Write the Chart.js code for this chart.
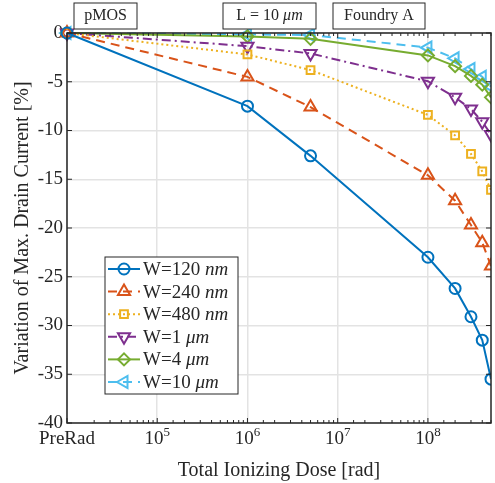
<!DOCTYPE html>
<html>
<head>
<meta charset="utf-8">
<script src="https://cdn.jsdelivr.net/npm/chart.js@4.4.1/dist/chart.umd.min.js"></script>
<style>
    html, body { margin: 0; padding: 0; background: #ffffff; }
    #wrap { width: 495px; height: 483px; }
</style>
</head>
<body>
<div id="wrap"><canvas id="doseGraph" width="495" height="483"></canvas></div>
<script>
// dose steps, PreRad is put at 1e4 on the log axis
const doses = [1e4, 1e6, 5e6, 1e8, 2e8, 3e8, 4e8, 5e8];
const w120nm = [0, -7.5, -12.6, -23.0, -26.2, -29.1, -31.5, -35.5];
const w240nm = [0, -4.5, -7.6, -14.6, -17.2, -19.7, -21.5, -23.9];
const w480nm = [0, -2.2, -3.8, -8.4, -10.5, -12.4, -14.2, -16.1];
const w1um = [0, -1.35, -2.1, -4.95, -6.6, -7.8, -9.1, -10.4];
const w4um = [0, -0.35, -0.6, -2.3, -3.4, -4.4, -5.3, -6.6];
const w10um = [0, -0.15, -0.2, -1.5, -2.6, -3.7, -4.5, -5.5];

const seriesNames = ["W=120", "W=240", "W=480", "W=1", "W=4", "W=10"];
const seriesUnits = ["nm", "nm", "nm", "\u03bcm", "\u03bcm", "\u03bcm"];
const xTickValues = [1e4, 1e5, 1e6, 1e7, 1e8];
const xTickLabels = ["PreRad", "10|5", "10|6", "10|7", "10|8"];
const boxTexts = [["pMOS", ""], ["L = 10 ", "\u03bcm"], ["Foundry A", ""]];

const FONT = "'Liberation Serif', 'Times New Roman', serif";
const INK = "#262626";

function make_series(values, idx, color, dash, style, radius, rot) {
    return {
        label: seriesNames[idx] + " " + seriesUnits[idx],
        data: doses.map((d, i) => ({ x: d, y: values[i] })),
        borderColor: color,
        backgroundColor: "rgba(0,0,0,0)",
        borderWidth: 2,
        borderDash: dash,
        pointStyle: style,
        pointRadius: radius,
        pointRotation: rot,
        pointBorderWidth: 2,
        pointBorderColor: color,
        pointBackgroundColor: "rgba(0,0,0,0)",
        tension: 0,
        clip: { left: false, top: false, right: 0, bottom: 0 }
    };
}

const datasets = [
    make_series(w120nm, 0, "#0072BD", [], "circle", 5.5, 0),
    make_series(w240nm, 1, "#D95319", [9, 6], "triangle", 7, 0),
    make_series(w480nm, 2, "#EDB120", [2, 3], "rect", 5.5, 0),
    make_series(w1um, 3, "#7E2F8E", [9, 4, 2, 4], "triangle", 7, 180),
    make_series(w4um, 4, "#77AC30", [], "rectRot", 6, 0),
    make_series(w10um, 5, "#4DBEEE", [9, 6], "triangle", 7, -90)
];

// draws text made of a normal part and an italic part
function draw_mixed(ctx, x, y, normal, italic, size, align) {
    ctx.font = size + "px " + FONT;
    const w1 = ctx.measureText(normal).width;
    ctx.font = "italic " + size + "px " + FONT;
    const w2 = ctx.measureText(italic).width;
    let start = x;
    if (align === "center") { start = x - (w1 + w2) / 2; }
    ctx.textAlign = "left";
    ctx.textBaseline = "middle";
    ctx.font = size + "px " + FONT;
    ctx.fillText(normal, start, y);
    ctx.font = "italic " + size + "px " + FONT;
    ctx.fillText(italic, start + w1, y);
}

// box, inward ticks, x labels, legend and the text boxes on top
const decorPlugin = {
    id: "decor",
    afterDraw(chart) {
        const ctx = chart.ctx;
        const area = chart.chartArea;
        const xs = chart.scales.x;
        const ys = chart.scales.y;
        ctx.save();

        // axes box
        ctx.strokeStyle = INK;
        ctx.lineWidth = 1.5;
        ctx.setLineDash([]);
        ctx.strokeRect(area.left, area.top, area.right - area.left, area.bottom - area.top);

        // x ticks (inward, bottom and top)
        ctx.lineWidth = 1;
        xs.ticks.forEach(t => {
            const lg = Math.log10(t.value);
            const major = Math.abs(lg - Math.round(lg)) < 1e-9;
            const len = major ? 5 : 3;
            const px = xs.getPixelForValue(t.value);
            ctx.beginPath();
            ctx.moveTo(px, area.bottom); ctx.lineTo(px, area.bottom - len);
            ctx.moveTo(px, area.top); ctx.lineTo(px, area.top + len);
            ctx.stroke();
        });
        // y ticks (inward, left and right)
        ys.ticks.forEach(t => {
            const py = ys.getPixelForValue(t.value);
            ctx.beginPath();
            ctx.moveTo(area.left, py); ctx.lineTo(area.left + 5, py);
            ctx.moveTo(area.right, py); ctx.lineTo(area.right - 5, py);
            ctx.stroke();
        });

        // x tick labels with raised exponent
        ctx.fillStyle = INK;
        xTickValues.forEach((v, i) => {
            const px = xs.getPixelForValue(v);
            const parts = xTickLabels[i].split("|");
            ctx.textBaseline = "alphabetic";
            ctx.font = "19px " + FONT;
            if (parts.length === 1) {
                ctx.textAlign = "center";
                ctx.fillText(parts[0], px, area.bottom + 21);
            } else {
                const wb = ctx.measureText(parts[0]).width;
                ctx.font = "13px " + FONT;
                const we = ctx.measureText(parts[1]).width;
                const start = px - (wb + we) / 2;
                ctx.textAlign = "left";
                ctx.font = "19px " + FONT;
                ctx.fillText(parts[0], start, area.bottom + 21);
                ctx.font = "13px " + FONT;
                ctx.fillText(parts[1], start + wb, area.bottom + 13);
            }
        });

        // legend
        const lx = 105, ly = 257, lw = 133, lh = 137;
        ctx.fillStyle = "#ffffff";
        ctx.fillRect(lx, ly, lw, lh);
        ctx.strokeStyle = INK;
        ctx.lineWidth = 1;
        ctx.strokeRect(lx, ly, lw, lh);
        chart.data.datasets.forEach((ds, i) => {
            const ry = 269 + i * 22.6;
            ctx.strokeStyle = ds.borderColor;
            ctx.lineWidth = ds.borderWidth;
            ctx.setLineDash(ds.borderDash);
            ctx.beginPath();
            ctx.moveTo(lx + 3, ry);
            ctx.lineTo(lx + 35, ry);
            ctx.stroke();
            ctx.setLineDash([]);
            ctx.fillStyle = "rgba(0,0,0,0)";
            Chart.helpers.drawPoint(ctx, {
                pointStyle: ds.pointStyle,
                rotation: ds.pointRotation,
                radius: ds.pointRadius,
                borderWidth: ds.pointBorderWidth
            }, lx + 19, ry);
            ctx.fillStyle = INK;
            draw_mixed(ctx, lx + 38, ry + 1, seriesNames[i] + " ", seriesUnits[i], 19, "left");
        });

        // text boxes above the plot
        const boxes = [[74, 63], [223, 93], [333, 92]];
        boxes.forEach((b, i) => {
            ctx.fillStyle = "#ffffff";
            ctx.fillRect(b[0], 3, b[1], 26);
            ctx.strokeStyle = INK;
            ctx.lineWidth = 1;
            ctx.strokeRect(b[0], 3, b[1], 26);
            ctx.fillStyle = INK;
            draw_mixed(ctx, b[0] + b[1] / 2, 16, boxTexts[i][0], boxTexts[i][1], 16, "center");
        });
        ctx.restore();
    }
};

// build config for the dose graph
function _build_dose_config() {
    return {
        type: "line",
        data: { datasets: datasets },
        options: {
            responsive: false,
            animation: false,
            layout: { autoPadding: false, padding: { top: 33, right: 4, left: 0, bottom: 0 } },
            plugins: {
                legend: { display: false },
                tooltip: { enabled: false }
            },
            scales: {
                x: {
                    type: "logarithmic",
                    min: 1e4,
                    max: 5e8,
                    border: { display: false },
                    grid: {
                        drawTicks: false,
                        lineWidth: 1.5,
                        color: ctx => {
                            const v = ctx.tick ? ctx.tick.value : 0;
                            const lg = Math.log10(v);
                            return Math.abs(lg - Math.round(lg)) < 1e-9 ? "#e3e3e3" : "rgba(0,0,0,0)";
                        }
                    },
                    ticks: { display: false, autoSkip: false },
                    title: {
                        display: true,
                        text: "Total Ionizing Dose [rad]",
                        color: INK,
                        font: { family: FONT, size: 20 },
                        padding: { top: 6, bottom: 0 }
                    },
                    afterFit: scale => { scale.height = 60; }
                },
                y: {
                    min: -40,
                    max: 0,
                    border: { display: false },
                    grid: { drawTicks: false, lineWidth: 1.5, color: "#e3e3e3" },
                    ticks: {
                        stepSize: 5,
                        padding: 4,
                        color: INK,
                        font: { family: FONT, size: 19 },
                        callback: v => String(v)
                    },
                    title: {
                        display: true,
                        text: "Variation of Max. Drain Current [%]",
                        color: INK,
                        font: { family: FONT, size: 20 },
                        padding: { top: 11, bottom: 0 }
                    },
                    afterFit: scale => { scale.width = 67; }
                }
            }
        },
        plugins: [decorPlugin]
    };
}

// function to create the dose graph
function create_dose_graph() {
    console.log("creating_dose_graph");
    return new Chart("doseGraph", _build_dose_config());
}

create_dose_graph();
</script>
</body>
</html>
